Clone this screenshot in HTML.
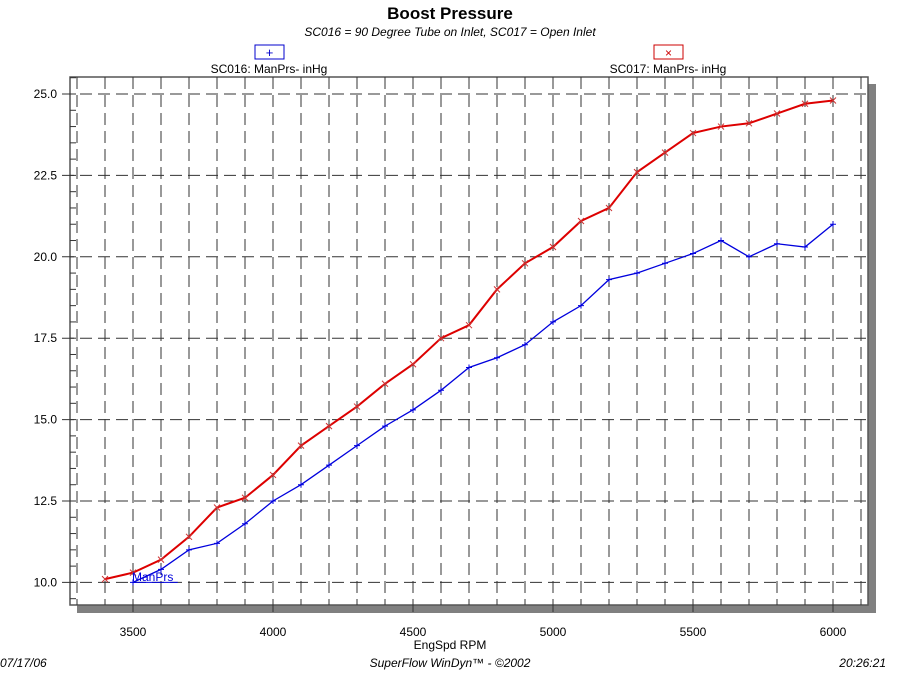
<!DOCTYPE html>
<html><head><meta charset="utf-8"><style>
body{margin:0;background:#fff;width:900px;height:672px;overflow:hidden;font-family:"Liberation Sans",sans-serif}
svg text{font-family:"Liberation Sans",sans-serif}
</style></head><body>
<svg id="s" width="900" height="672" xmlns="http://www.w3.org/2000/svg">
<text x="450" y="19" text-anchor="middle" font-size="17" font-weight="bold">Boost Pressure</text>
<text x="450" y="36" text-anchor="middle" font-size="12" font-style="italic">SC016 = 90 Degree Tube on Inlet, SC017 = Open Inlet</text>
<rect x="255" y="45" width="29" height="14" fill="#fff" stroke="#0000cc"/>
<text x="269.5" y="57" text-anchor="middle" font-size="13" fill="#0000cc">+</text>
<text x="269" y="73" text-anchor="middle" font-size="12">SC016: ManPrs- inHg</text>
<rect x="654" y="45" width="29" height="14" fill="#fff" stroke="#cc0000"/>
<text x="668.5" y="57" text-anchor="middle" font-size="12" fill="#cc0000">×</text>
<text x="668" y="73" text-anchor="middle" font-size="12">SC017: ManPrs- inHg</text>
<rect x="77" y="84" width="799" height="529" fill="#808080"/>
<rect x="70" y="77" width="798" height="528" fill="#fff" stroke="#555" stroke-width="1.5"/>
<g id="g"></g>
<text x="450" y="649" text-anchor="middle" font-size="12">EngSpd  RPM</text>
<text x="0" y="667" font-size="12" font-style="italic">07/17/06</text>
<text x="450" y="667" text-anchor="middle" font-size="12" font-style="italic">SuperFlow WinDyn™ - ©2002</text>
<text x="886" y="667" text-anchor="end" font-size="12" font-style="italic">20:26:21</text>
</svg>
<script>
var g=document.getElementById('g'),h='';
function X(r){return 133+(r-3500)*0.28}
function Y(v){return 94+(25-v)*32.56}
for(var r=3300;r<=6100;r+=100){var x=X(r);h+='<line x1="'+x+'" y1="77" x2="'+x+'" y2="605" stroke="#333" stroke-dasharray="12,6"/>';}
for(var r=3500;r<=6000;r+=500){h+='<line x1="'+X(r)+'" y1="605" x2="'+X(r)+'" y2="612" stroke="#333"/><text x="'+X(r)+'" y="636" text-anchor="middle" font-size="12">'+r+'</text>';}
for(var v=9.5;v<=25.5;v+=0.5){var y=Y(v);h+='<line x1="70" y1="'+y+'" x2="76" y2="'+y+'" stroke="#333"/>';}
for(var v=10;v<=25;v+=2.5){var y=Y(v);h+='<line x1="62" y1="'+y+'" x2="868" y2="'+y+'" stroke="#333" stroke-dasharray="12,6"/><text x="57" y="'+(y+4)+'" text-anchor="end" font-size="12">'+v.toFixed(1)+'</text>';}
var red=[10.1,10.3,10.7,11.4,12.3,12.6,13.3,14.2,14.8,15.4,16.1,16.7,17.5,17.9,19.0,19.8,20.3,21.1,21.5,22.6,23.2,23.8,24.0,24.1,24.4,24.7,24.8];
var blue=[10.0,10.4,11.0,11.2,11.8,12.5,13.0,13.6,14.2,14.8,15.3,15.9,16.6,16.9,17.3,18.0,18.5,19.3,19.5,19.8,20.1,20.5,20.0,20.4,20.3,21.0];
var p='',m='';
blue.forEach(function(v,i){var x=X(3500+i*100),y=Y(v);p+=x+','+y+' ';m+='<path d="M'+(x-3)+' '+y+'h6M'+x+' '+(y-3)+'v6" stroke="#0000dd"/>';});
h+='<line x1="'+X(3500)+'" y1="'+Y(10)+'" x2="'+X(3660)+'" y2="'+Y(10)+'" stroke="#0000dd"/>';
h+='<polyline points="'+p+'" fill="none" stroke="#0000dd" stroke-width="1.3"/>'+m;
p='';m='';
red.forEach(function(v,i){var x=X(3400+i*100),y=Y(v);p+=x+','+y+' ';m+='<path d="M'+(x-3)+' '+(y-3)+'l6 6M'+(x+3)+' '+(y-3)+'l-6 6" stroke="#cc3333"/>';});
h+='<polyline points="'+p+'" fill="none" stroke="#dd0000" stroke-width="2"/>'+m;
h+='<text x="132" y="581" font-size="12" fill="#0000dd">ManPrs</text>';
g.innerHTML=h;
</script>
</body></html>
